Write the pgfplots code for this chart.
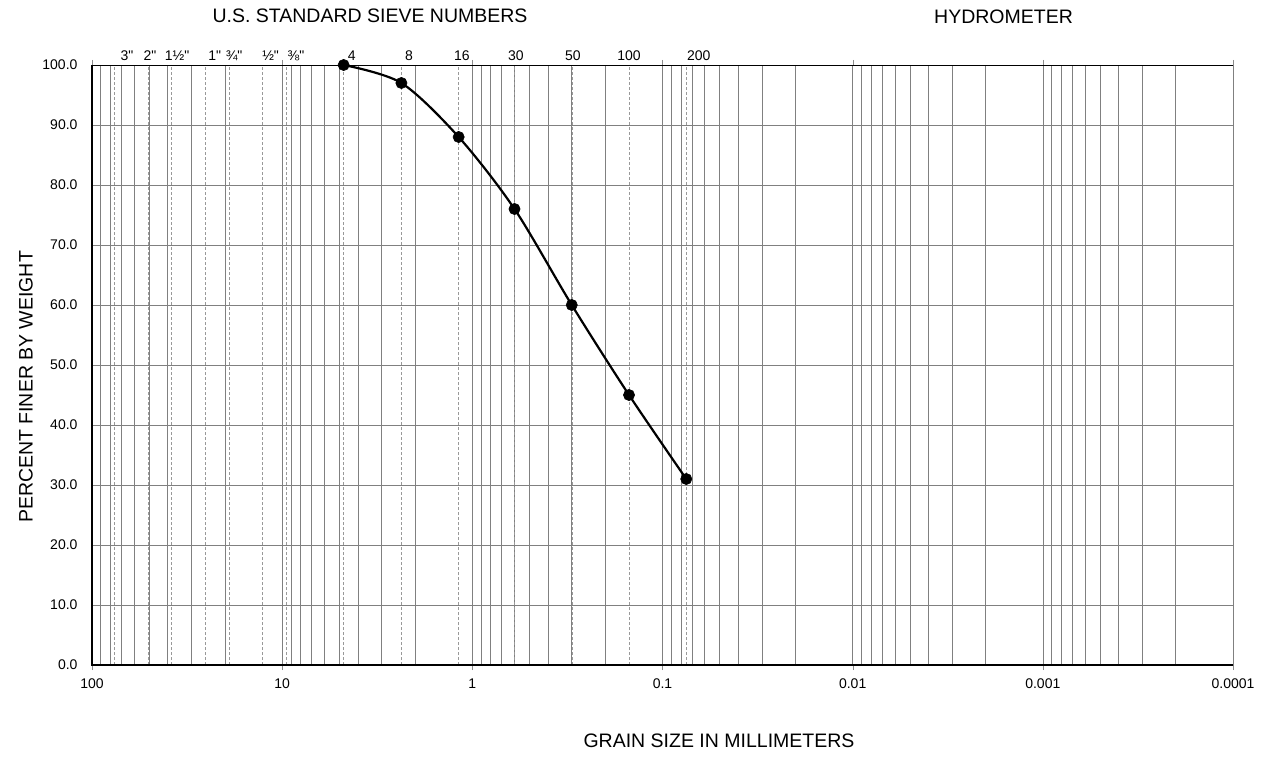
\documentclass[border=0pt]{standalone}
\usepackage{fontspec}
\setmainfont{Liberation Sans}[Ligatures=TeXOff]
\usepackage{pgfplots}
\pgfplotsset{compat=1.18}
\begin{document}
\begin{tikzpicture}[font=\fontsize{14}{16}\selectfont]
\begin{axis}[
  at={(0,0)}, anchor=south west,
  scale only axis, width=1141pt, height=600pt,
  xmode=log, x dir=reverse, xmin=0.0001, xmax=100,
  ymin=0, ymax=100,
  clip=false,
  /pgf/number format/assume math mode=true,
  xtick={100,10,1,0.1,0.01,0.001,0.0001},
  xticklabels={100,10,1,0.1,0.01,0.001,0.0001},
  minor xtick={20,30,40,50,60,70,80,90,
               2,3,4,5,6,7,8,9,
               0.2,0.3,0.4,0.5,0.6,0.7,0.8,0.9,
               0.02,0.03,0.04,0.05,0.06,0.07,0.08,0.09,
               0.002,0.003,0.004,0.005,0.006,0.007,0.008,0.009,
               0.0002,0.0003,0.0004,0.0005,0.0006,0.0007,0.0008,0.0009},
  ytick={0,10,...,100},
  yticklabel={\pgfmathprintnumber[fixed,fixed zerofill,precision=1]{\tick}},
  xticklabel style={yshift=-5pt},
  yticklabel style={xshift=-6pt},
  tick align=outside,
  major tick length=5pt, minor tick length=0pt,
  xtick style={draw=black!45},
  ytick style={draw=none},
  grid=both,
  major grid style={black!50, line width=0.6pt},
  minor grid style={black!50, line width=0.6pt},
  extra x ticks={76.2,50.8,38.1,25.4,19.05,12.7,9.525,4.75,2.36,1.18,0.6,0.3,0.15,0.075},
  extra x tick labels={},
  extra x tick style={grid=major, major grid style={dash pattern=on 3pt off 2pt, black!40, line width=0.5pt}, major tick length=0pt},
  axis line style={black!50, line width=0.6pt},
]
\addplot[black, line width=2.2pt, smooth, mark=*, mark size=5.6pt, mark options={line width=0.6pt}]
  coordinates {(4.75,100) (2.36,97) (1.18,88) (0.6,76) (0.3,60) (0.15,45) (0.075,31)};
\draw[black, line width=1.2pt] (rel axis cs:0,1) -- (rel axis cs:0,0) -- (rel axis cs:1,0);
\draw[black, line width=0.8pt] (rel axis cs:0,1) -- (rel axis cs:1,1);
\node[anchor=base, yshift=4.5pt] at (axis cs:65.4,100) {3"};
\node[anchor=base, yshift=4.5pt] at (axis cs:49.5,100) {2"};
\node[anchor=base, yshift=4.5pt] at (axis cs:35.7,100) {1½"};
\node[anchor=base, yshift=4.5pt] at (axis cs:22.6,100) {1"};
\node[anchor=base, yshift=4.5pt] at (axis cs:17.9,100) {¾"};
\node[anchor=base, yshift=4.5pt] at (axis cs:11.5,100) {½"};
\node[anchor=base, yshift=4.5pt] at (axis cs:8.46,100) {⅜"};
\node[anchor=base, yshift=4.5pt] at (axis cs:4.30,100) {4};
\node[anchor=base, yshift=4.5pt] at (axis cs:2.15,100) {8};
\node[anchor=base, yshift=4.5pt] at (axis cs:1.135,100) {16};
\node[anchor=base, yshift=4.5pt] at (axis cs:0.590,100) {30};
\node[anchor=base, yshift=4.5pt] at (axis cs:0.296,100) {50};
\node[anchor=base, yshift=4.5pt] at (axis cs:0.150,100) {100};
\node[anchor=base, yshift=4.5pt] at (axis cs:0.0644,100) {200};
\end{axis}
\node[font=\fontsize{19.5}{22}\selectfont] at (278pt,649.5pt) {U.S. STANDARD SIEVE NUMBERS};
\node[font=\fontsize{19.5}{22}\selectfont] at (911.5pt,648pt) {HYDROMETER};
\node[font=\fontsize{19.5}{22}\selectfont, rotate=90] at (-66pt,278pt) {PERCENT FINER BY WEIGHT};
\node[font=\fontsize{19.5}{22}\selectfont] at (627pt,-76pt) {GRAIN SIZE IN MILLIMETERS};
\path (-92pt,-91pt) rectangle (1171pt,665pt);
\end{tikzpicture}
\end{document}
